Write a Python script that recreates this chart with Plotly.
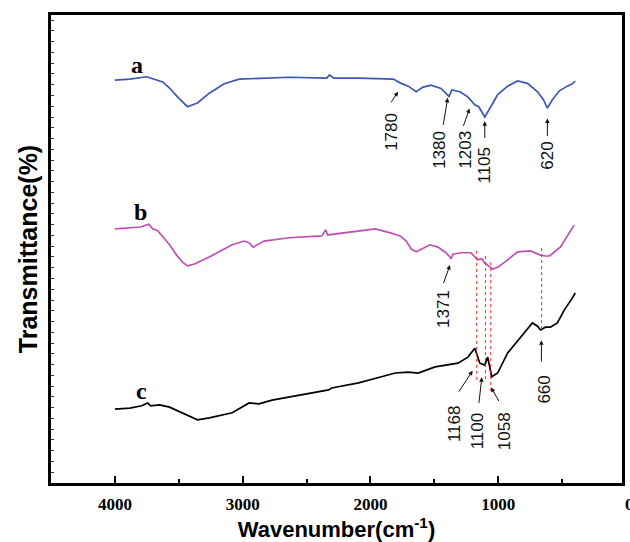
import plotly.graph_objects as go

# ---- data (wavenumber cm^-1, transmittance in arbitrary % units) ----
wn_a = [4000, 3883, 3751, 3712, 3673, 3626, 3572, 3510, 3432, 3354, 3261, 3144, 3027, 2872, 2638,
        2342, 2319, 2288, 2093, 1821, 1767, 1704, 1642, 1588, 1525, 1448, 1385, 1362, 1300, 1238,
        1183, 1152, 1105, 1058, 1004, 926, 848, 770, 692, 646, 615, 576, 521, 459, 420, 397]
t_a = [86.1, 86.3, 86.8, 86.5, 86.1, 85.7, 84.4, 82.5, 80.4, 81.2, 83.3, 85.3, 86.3, 86.5, 86.7,
       86.5, 87.2, 86.5, 86.5, 86.3, 85.5, 84.8, 83.6, 84.6, 85.0, 84.3, 82.6, 84.0, 83.6, 82.5,
       80.8, 80.4, 78.2, 80.4, 83.0, 84.8, 85.9, 85.4, 83.6, 81.9, 80.1, 81.9, 83.8, 84.8, 85.3, 85.9]

wn_b = [4000, 3883, 3798, 3735, 3704, 3665, 3626, 3572, 3518, 3471, 3432, 3377, 3261, 3167, 3082,
        2988, 2949, 2918, 2833, 2638, 2381, 2366, 2350, 2335, 2171, 1961, 1837, 1767, 1720, 1681,
        1642, 1588, 1533, 1471, 1409, 1378, 1370, 1354, 1292, 1214, 1160, 1128, 1105, 1043, 1004,
        949, 848, 747, 669, 630, 599, 514, 444, 405]
t_b = [54.3, 54.5, 54.7, 55.3, 54.3, 53.9, 52.6, 50.9, 48.7, 47.2, 46.4, 46.8, 48.3, 49.6, 50.9,
       51.7, 51.3, 50.4, 51.7, 52.4, 52.8, 53.4, 54.1, 53.0, 53.6, 54.3, 53.4, 52.8, 51.7, 50.0,
       49.4, 50.2, 50.9, 50.4, 49.2, 48.3, 47.9, 48.9, 49.2, 49.2, 47.7, 47.9, 47.0, 45.7, 46.1,
       47.2, 49.4, 49.6, 48.7, 48.5, 48.5, 50.4, 53.4, 55.1]

wn_c = [4000, 3883, 3790, 3743, 3720, 3650, 3572, 3471, 3354, 3261, 3082, 2949, 2872, 2770, 2560,
        2327, 2303, 2093, 1914, 1806, 1704, 1626, 1494, 1393, 1315, 1237, 1183, 1160, 1144, 1105,
        1082, 1051, 1004, 926, 825, 732, 692, 669, 630, 591, 537, 482, 420, 397]
t_c = [15.8, 16.0, 16.5, 17.1, 16.5, 16.7, 16.2, 15.0, 13.5, 13.9, 15.0, 17.1, 16.9, 17.7, 18.8,
       19.9, 20.3, 21.4, 22.7, 23.5, 23.7, 23.5, 24.8, 25.2, 25.6, 26.9, 28.8, 26.9, 25.6, 25.2,
       26.9, 22.7, 23.5, 27.8, 31.2, 34.2, 33.5, 32.7, 33.3, 33.3, 34.2, 37.0, 39.5, 40.6]

series_names = ["a", "b", "c"]
series_colors = ["#3d57b2", "#bf4fb5", "#000000"]

# peak labels
peaks_a = ["1780", "1380", "1203", "1105", "620"]
peaks_b = ["1371"]
peaks_c = ["1168", "1100", "1058", "660"]
dotted_wn = [1168, 1100, 1058, 660]

x_ticks = [4000, 3000, 2000, 1000]
x_ticklabels = ["4000", "3000", "2000", "1000"]

# ---- figure ----
fig = go.Figure()
for wn, t, name, col in zip([wn_a, wn_b, wn_c], [t_a, t_b, t_c], series_names, series_colors):
    fig.add_trace(go.Scatter(x=wn, y=t, mode="lines", name=name,
                             line=dict(color=col, width=1.7), showlegend=False))

# red dotted guide lines
dot_ranges = [(49.6, 21.4), (48.5, 22.0), (47.2, 19.4), (50.2, 32.7)]
for w, (y0, y1) in zip(dotted_wn, dot_ranges):
    fig.add_trace(go.Scatter(x=[w, w], y=[y0, y1], mode="lines",
                             line=dict(color="#ff2020", width=1, dash="dot"), showlegend=False))

SANS = "Liberation Sans, Arial, sans-serif"
SERIF = "Liberation Serif, Times New Roman, serif"

annotations = []
# (text, text_x, text_y, tail_x, tail_y, head_x, head_y)
label_specs = [
    (peaks_a[0], 1840, 75.0, 1846, 81.0, 1784, 83.6),
    (peaks_a[1], 1455, 71.2, 1432, 76.2, 1395, 82.3),
    (peaks_a[2], 1253, 71.2, 1276, 76.0, 1224, 80.0),
    (peaks_a[3], 1105, 68.0, 1105, 73.4, 1105, 77.3),
    (peaks_a[4], 615, 70.0, 615, 73.8, 615, 77.9),
    (peaks_b[0], 1424, 37.2, 1432, 42.4, 1377, 46.6),
    (peaks_c[0], 1346, 12.8, 1315, 19.2, 1200, 24.0),
    (peaks_c[1], 1160, 11.2, 1152, 16.8, 1128, 22.6),
    (peaks_c[2], 949, 11.0, 988, 17.2, 1056, 20.4),
    (peaks_c[3], 640, 20.0, 662, 25.6, 662, 30.5),
]
for txt, tx, ty, ax_, ay_, hx, hy in label_specs:
    annotations.append(dict(x=tx, y=ty, xref="x", yref="y", text=txt, showarrow=False,
                            textangle=-90, font=dict(family=SANS, size=17, color="#111")))
    annotations.append(dict(x=hx, y=hy, xref="x", yref="y", ax=ax_, ay=ay_,
                            axref="x", ayref="y", text="", showarrow=True,
                            arrowhead=2, arrowsize=0.9, arrowwidth=1, arrowcolor="#111",
                            standoff=0, startstandoff=0))

# curve letters
for name, lx, ly in zip(series_names, [3829, 3798, 3790], [89.4, 57.9, 19.6]):
    annotations.append(dict(x=lx, y=ly, xref="x", yref="y", text="<b>%s</b>" % name,
                            showarrow=False, font=dict(family=SERIF, size=24, color="#000")))

# partially visible "0" tick label at the right edge
annotations.append(dict(x=1.0, y=0, xref="paper", yref="paper", xshift=7, yshift=-21,
                        text="<b>0</b>", showarrow=False, xanchor="center", yanchor="middle",
                        font=dict(family=SERIF, size=17, color="#000")))

fig.update_layout(
    width=630, height=542,
    margin=dict(l=51, r=5, t=15, b=59),
    paper_bgcolor="white", plot_bgcolor="white",
    annotations=annotations,
    xaxis=dict(range=[4500, 31], showgrid=False, zeroline=False,
               showline=True, linecolor="black", linewidth=2.5, mirror=True,
               ticks="inside", ticklen=7, tickwidth=2, tickcolor="black",
               tickvals=x_ticks, ticktext=["<b>%s</b>" % s for s in x_ticklabels],
               tickfont=dict(family=SERIF, size=17, color="#000"),
               ticklabelstandoff=4,
               minor=dict(ticks="inside", ticklen=4, tickwidth=2, dtick=500, tick0=0,
                          tickcolor="black", showgrid=False),
               title=dict(text="<b>Wavenumber(cm<sup>-1</sup>)</b>",
                          font=dict(family=SANS, size=22, color="#000"), standoff=4)),
    yaxis=dict(range=[0, 100], showgrid=False, zeroline=False,
               showline=True, linecolor="black", linewidth=2.5, mirror=True,
               ticks="inside", ticklen=3, tickwidth=1, tickcolor="#333",
               dtick=2.3, tick0=0, showticklabels=False,
               title=dict(text="<b>Transmittance(%)</b>",
                          font=dict(family=SANS, size=25, color="#000"), standoff=4)),
)

fig.write_html("out.html", config={"displayModeBar": False},
               post_script="document.body.style.margin='0px';document.body.style.overflow='hidden';")
